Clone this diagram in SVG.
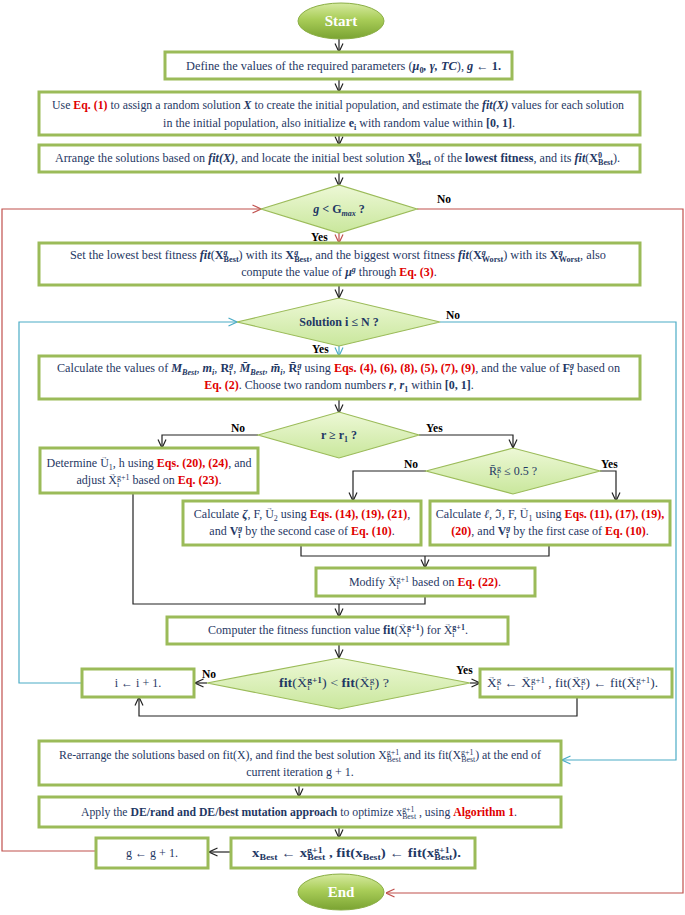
<svg xmlns="http://www.w3.org/2000/svg" width="685" height="915" viewBox="0 0 685 915">
<defs>
<style>
.t{font-family:"Liberation Serif",serif;font-size:12px;fill:#1F3864}
.r{fill:#E00000;font-weight:bold}
.b{font-weight:bold}
.bi{font-weight:bold;font-style:italic}
.it{font-style:italic}
.s{font-size:8px}
.va{font-size:6.5px;font-weight:normal;font-style:normal}
.lbl{font-family:"Liberation Serif",serif;font-size:11.5px;font-weight:bold;fill:#000}
.box{fill:#fff;stroke:#9BBB59;stroke-width:3}
.dia{fill:url(#gDia);stroke:#9BBB59;stroke-width:1.2}
.ell{fill:url(#gEl);stroke:#8AAE45;stroke-width:1}
.et{font-family:"Liberation Serif",serif;font-size:15px;font-weight:bold;fill:#fff}
.c{fill:none;stroke:#222;stroke-width:1.2}
.cr{fill:none;stroke:#C0504D;stroke-width:1.2}
.cb{fill:none;stroke:#4BACC6;stroke-width:1.2}
</style>
<linearGradient id="gEl" x1="0" y1="0" x2="0" y2="1"><stop offset="0" stop-color="#D6EAA0"/><stop offset="0.45" stop-color="#A9CD58"/><stop offset="1" stop-color="#7AA332"/></linearGradient>
<linearGradient id="gDia" x1="0" y1="0" x2="0" y2="1"><stop offset="0" stop-color="#EDF8D6"/><stop offset="1" stop-color="#C9E79C"/></linearGradient>
<marker id="ak" markerUnits="userSpaceOnUse" markerWidth="10" markerHeight="10" viewBox="0 0 10 10" refX="9.5" refY="5" orient="auto"><path d="M1,1 L9.5,5 L1,9" fill="none" stroke="#222" stroke-width="1.2"/></marker>
<marker id="ar" markerUnits="userSpaceOnUse" markerWidth="10" markerHeight="10" viewBox="0 0 10 10" refX="9.5" refY="5" orient="auto"><path d="M1,1 L9.5,5 L1,9" fill="none" stroke="#C0504D" stroke-width="1.2"/></marker>
<marker id="ab" markerUnits="userSpaceOnUse" markerWidth="10" markerHeight="10" viewBox="0 0 10 10" refX="9.5" refY="5" orient="auto"><path d="M1,1 L9.5,5 L1,9" fill="none" stroke="#4BACC6" stroke-width="1.2"/></marker>
</defs>
<rect width="685" height="915" fill="#fff"/>

<g id="connectors">
<path class="c" d="M339,39 V52" marker-end="url(#ak)"/>
<path class="c" d="M339,79 V92" marker-end="url(#ak)"/>
<path class="c" d="M339,135 V145" marker-end="url(#ak)"/>
<path class="c" d="M339,172 V186" marker-end="url(#ak)"/>
<path class="cr" d="M417,209 H683 V893 H386" marker-end="url(#ar)"/>
<path class="cr" d="M96,851 H2 V209 H261" marker-end="url(#ar)"/>
<path class="cr" d="M339,233 V243" marker-end="url(#ar)"/>
<path class="c" d="M339,285 V298" marker-end="url(#ak)"/>
<path class="cb" d="M440,322 H676 V760 H562" marker-end="url(#ab)"/>
<path class="cb" d="M82,683 H19 V322 H237" marker-end="url(#ab)"/>
<path class="cb" d="M339,346 V356" marker-end="url(#ab)"/>
<path class="c" d="M339,399 V413" marker-end="url(#ak)"/>
<path class="c" d="M258,435 H162 V448" marker-end="url(#ak)"/>
<path class="c" d="M419,435 H513 V448" marker-end="url(#ak)"/>
<path class="c" d="M426,471 H353 V501" marker-end="url(#ak)"/>
<path class="c" d="M600,471 H616 V501" marker-end="url(#ak)"/>
<path class="c" d="M301,545 V556 H549 V545"/>
<path class="c" d="M425,556 V568" marker-end="url(#ak)"/>
<path class="c" d="M133,493 V604 H425 V596"/>
<path class="c" d="M339,604 V617" marker-end="url(#ak)"/>
<path class="c" d="M339,644 V658" marker-end="url(#ak)"/>
<path class="c" d="M207,683 H195" marker-end="url(#ak)"/>
<path class="c" d="M470,683 H480" marker-end="url(#ak)"/>
<path class="c" d="M577,697 V716 H139 V697" marker-end="url(#ak)"/>
<path class="c" d="M299,785 V797" marker-end="url(#ak)"/>
<path class="c" d="M339,827 V838" marker-end="url(#ak)"/>
<path class="c" d="M231,852 H209" marker-end="url(#ak)"/>
<text class="lbl" x="437" y="203">No</text>
<text class="lbl" x="311" y="241">Yes</text>
<text class="lbl" x="446" y="319">No</text>
<text class="lbl" x="312" y="353">Yes</text>
<text class="lbl" x="231" y="432">No</text>
<text class="lbl" x="426" y="432">Yes</text>
<text class="lbl" x="404" y="468">No</text>
<text class="lbl" x="601" y="468">Yes</text>
<text class="lbl" x="202" y="678">No</text>
<text class="lbl" x="456" y="674">Yes</text>
</g>

<g id="start">
<ellipse class="ell" cx="341" cy="21" rx="43" ry="18"/>
<text class="et" x="341" y="26" text-anchor="middle">Start</text>
</g>

<g id="box1">
<rect class="box" x="165" y="52" width="347" height="27"/>
<text class="t" x="186" y="70" textLength="315" lengthAdjust="spacingAndGlyphs">Define the values of the required parameters (<tspan class="bi">μ</tspan><tspan class="s b" dy="2.5">0</tspan><tspan class="bi" dy="-2.5">, γ, TC</tspan>), <tspan class="bi">g</tspan>  ← <tspan class="b">1.</tspan></text>
</g>

<g id="box2">
<rect class="box" x="39" y="92" width="601" height="43"/>
<text class="t" x="52" y="109" textLength="572" lengthAdjust="spacingAndGlyphs">Use <tspan class="r">Eq. (1)</tspan> to assign a random solution <tspan class="bi">X</tspan> to create the initial population, and estimate the <tspan class="bi">fit(X)</tspan> values for each solution</text>
<text class="t" x="339" y="127" text-anchor="middle">in the initial population, also initialize <tspan class="b">e</tspan><tspan class="s b" dy="2.5">i</tspan><tspan dy="-2.5"> with random value within </tspan><tspan class="b">[0, 1]</tspan>.</text>
</g>

<g id="box3">
<rect class="box" x="39" y="145" width="601" height="27"/>
<text class="t" x="55" y="162" textLength="565" lengthAdjust="spacingAndGlyphs">Arrange the solutions based on <tspan class="bi">fit(X)</tspan>, and locate the initial best solution <tspan class="b">X</tspan><tspan class="s b" dy="-4">0</tspan><tspan class="s b" dx="-4" dy="6.5">Best</tspan><tspan dy="-2.5"> of the </tspan><tspan class="b">lowest fitness</tspan>, and its  <tspan class="bi">fit</tspan>(<tspan class="b">X</tspan><tspan class="s b" dy="-4">0</tspan><tspan class="s b" dx="-4" dy="6.5">Best</tspan><tspan dy="-2.5">).</tspan></text>
</g>

<g id="dec1">
<polygon class="dia" points="261,209 339,185 417,209 339,233"/>
<text class="t b" x="339" y="213" text-anchor="middle"><tspan class="bi">g</tspan> &lt; G<tspan class="s bi" dy="2.5">max</tspan><tspan dy="-2.5"> ?</tspan></text>
</g>

<g id="box4">
<rect class="box" x="39" y="243" width="601" height="42"/>
<text class="t" x="70" y="259" textLength="536" lengthAdjust="spacingAndGlyphs">Set the lowest best fitness <tspan class="bi">fit</tspan>(<tspan class="b">X</tspan><tspan class="s bi" dy="-4">g</tspan><tspan class="s b" dx="-4" dy="6.5">Best</tspan><tspan dy="-2.5">) with its  </tspan><tspan class="b">X</tspan><tspan class="s bi" dy="-4">g</tspan><tspan class="s b" dx="-4" dy="6.5">Best</tspan><tspan dy="-2.5">, and the biggest worst fitness </tspan><tspan class="bi">fit</tspan>(<tspan class="b">X</tspan><tspan class="s bi" dy="-4">g</tspan><tspan class="s b" dx="-4" dy="6.5">Worst</tspan><tspan dy="-2.5">) with its </tspan><tspan class="b">X</tspan><tspan class="s bi" dy="-4">g</tspan><tspan class="s b" dx="-4" dy="6.5">Worst</tspan><tspan dy="-2.5">, also</tspan></text>
<text class="t" x="339" y="276" text-anchor="middle">compute the value of <tspan class="bi">μ</tspan><tspan class="s bi" dy="-4">g</tspan><tspan dy="4"> through </tspan><tspan class="r">Eq. (3)</tspan>.</text>
</g>

<g id="dec2">
<polygon class="dia" points="237,322 339,298 440,322 339,346"/>
<text class="t b" x="339" y="326" text-anchor="middle">Solution  i ≤ N ?</text>
</g>

<g id="box5">
<rect class="box" x="39" y="356" width="601" height="43"/>
<text class="t" x="57" y="372" textLength="563" lengthAdjust="spacingAndGlyphs">Calculate the values of <tspan class="bi">M</tspan><tspan class="s bi" dy="2.5">Best</tspan><tspan dy="-2.5">, </tspan><tspan class="bi">m</tspan><tspan class="s bi" dy="2.5">i</tspan><tspan dy="-2.5">, </tspan><tspan class="b">R</tspan><tspan class="s b" dy="2.5">i</tspan><tspan class="s bi" dx="-2.2" dy="-6.5">g</tspan><tspan dy="4">, </tspan><tspan class="bi">M̄</tspan><tspan class="s bi" dy="2.5">Best</tspan><tspan dy="-2.5">, </tspan><tspan class="bi">m̄</tspan><tspan class="s bi" dy="2.5">i</tspan><tspan dy="-2.5">, </tspan><tspan class="b">R̄</tspan><tspan class="s b" dy="2.5">i</tspan><tspan class="s bi" dx="-2.2" dy="-6.5">g</tspan><tspan dy="4"> using </tspan><tspan class="r">Eqs. (4), (6), (8), (5), (7), (9)</tspan>, and the value of  <tspan class="b">F</tspan><tspan class="s b" dy="2.5">i</tspan><tspan class="s bi" dx="-2.2" dy="-6.5">g</tspan><tspan dy="4"> based on</tspan></text>
<text class="t" x="339" y="389" text-anchor="middle"><tspan class="r">Eq. (2)</tspan>. Choose two random numbers  <tspan class="bi">r</tspan>, <tspan class="bi">r</tspan><tspan class="s b" dy="2.5">1</tspan><tspan dy="-2.5"> within </tspan><tspan class="b">[0, 1]</tspan>.</text>
</g>

<g id="dec3">
<polygon class="dia" points="258,435 339,412 419,435 339,458"/>
<text class="t b" x="339" y="439" text-anchor="middle">r ≥ r<tspan class="s" dy="2.5">1</tspan><tspan dy="-2.5"> ?</tspan></text>
</g>

<g id="box-determine">
<rect class="box" x="40" y="448" width="218" height="45"/>
<text class="t" x="149" y="467" text-anchor="middle">Determine U<tspan class="va" dx="-7.7" dy="-8">→</tspan><tspan class="s" dx="1.2" dy="10.5">1</tspan><tspan dy="-2.5">, h using </tspan><tspan class="r">Eqs. (20), (24)</tspan>, and</text>
<text class="t" x="149" y="484" text-anchor="middle">adjust X<tspan class="va" dx="-7.7" dy="-8">→</tspan><tspan class="s" dx="1.2" dy="10.5">i</tspan><tspan class="s" dx="-2.2" dy="-6.5">g+1</tspan><tspan dy="4"> based on </tspan><tspan class="r">Eq. (23)</tspan>.</text>
</g>

<g id="dec4">
<polygon class="dia" points="426,471 513,448 600,471 513,494"/>
<text class="t" x="513" y="475" text-anchor="middle">R̄<tspan class="s" dy="2.5">i</tspan><tspan class="s" dx="-2.2" dy="-6.5">g</tspan><tspan dy="4"> ≤ 0.5 ?</tspan></text>
</g>

<g id="box-zeta">
<rect class="box" x="183" y="501" width="238" height="44"/>
<text class="t" x="302" y="518" text-anchor="middle">Calculate <tspan class="bi">ζ</tspan>, F, U<tspan class="va" dx="-7.7" dy="-8">→</tspan><tspan class="s" dx="1.2" dy="10.5">2</tspan><tspan dy="-2.5"> using </tspan><tspan class="r">Eqs. (14), (19), (21)</tspan>,</text>
<text class="t" x="302" y="535" text-anchor="middle">and <tspan class="b">V</tspan><tspan class="s b" dy="2.5">i</tspan><tspan class="s bi" dx="-2.2" dy="-6.5">g</tspan><tspan dy="4"> by the second case of </tspan><tspan class="r">Eq. (10)</tspan>.</text>
</g>

<g id="box-ell">
<rect class="box" x="430" y="501" width="240" height="44"/>
<text class="t" x="550" y="518" text-anchor="middle">Calculate <tspan class="it">ℓ</tspan>, ℑ, F, U<tspan class="va" dx="-7.7" dy="-8">→</tspan><tspan class="s" dx="1.2" dy="10.5">1</tspan><tspan dy="-2.5"> using </tspan><tspan class="r">Eqs. (11), (17), (19),</tspan></text>
<text class="t" x="550" y="535" text-anchor="middle"><tspan class="r">(20)</tspan>, and <tspan class="b">V</tspan><tspan class="s b" dy="2.5">i</tspan><tspan class="s bi" dx="-2.2" dy="-6.5">g</tspan><tspan dy="4"> by the first case of </tspan><tspan class="r">Eq. (10)</tspan>.</text>
</g>

<g id="box-modify">
<rect class="box" x="316" y="568" width="219" height="28"/>
<text class="t" x="425" y="586" text-anchor="middle">Modify X<tspan class="va" dx="-7.7" dy="-8">→</tspan><tspan class="s" dx="1.2" dy="10.5">i</tspan><tspan class="s" dx="-2.2" dy="-6.5">g+1</tspan><tspan dy="4"> based on </tspan><tspan class="r">Eq. (22)</tspan>.</text>
</g>

<g id="box-compute">
<rect class="box" x="167" y="617" width="341" height="27"/>
<text class="t" x="338" y="634" text-anchor="middle">Computer the fitness function value <tspan class="b">fit</tspan>(X<tspan class="va" dx="-7.7" dy="-8">→</tspan><tspan class="s" dx="1.2" dy="10.5">i</tspan><tspan class="s b" dx="-2.2" dy="-6.5">g+1</tspan><tspan dy="4">)  for  X</tspan><tspan class="va" dx="-7.7" dy="-8">→</tspan><tspan class="s" dx="1.2" dy="10.5">i</tspan><tspan class="s b" dx="-2.2" dy="-6.5">g+1</tspan><tspan dy="4">.</tspan></text>
</g>

<g id="dec5">
<polygon class="dia" points="207,683 339,658 470,683 339,709"/>
<text class="t" x="279" y="687" textLength="110" lengthAdjust="spacingAndGlyphs"><tspan class="b">fit</tspan>(X<tspan class="va" dx="-7.7" dy="-8">→</tspan><tspan class="s" dx="1.2" dy="10.5">i</tspan><tspan class="s b" dx="-2.2" dy="-6.5">g+1</tspan><tspan dy="4">) &lt; </tspan><tspan class="b">fit</tspan>(X<tspan class="va" dx="-7.7" dy="-8">→</tspan><tspan class="s" dx="1.2" dy="10.5">i</tspan><tspan class="s" dx="-2.2" dy="-6.5">g</tspan><tspan dy="4">) ?</tspan></text>
</g>

<g id="box-inc-i">
<rect class="box" x="82" y="669" width="112" height="28"/>
<text class="t" x="138" y="687" text-anchor="middle">i  ← i + 1.</text>
</g>

<g id="box-update">
<rect class="box" x="480" y="669" width="192" height="28"/>
<text class="t" x="487" y="687" textLength="171" lengthAdjust="spacingAndGlyphs">X<tspan class="va" dx="-7.7" dy="-8">→</tspan><tspan class="s" dx="1.2" dy="10.5">i</tspan><tspan class="s" dx="-2.2" dy="-6.5">g</tspan><tspan dy="4"> ← X</tspan><tspan class="va" dx="-7.7" dy="-8">→</tspan><tspan class="s" dx="1.2" dy="10.5">i</tspan><tspan class="s" dx="-2.2" dy="-6.5">g+1</tspan><tspan dy="4">   ,  fit(X</tspan><tspan class="va" dx="-7.7" dy="-8">→</tspan><tspan class="s" dx="1.2" dy="10.5">i</tspan><tspan class="s" dx="-2.2" dy="-6.5">g</tspan><tspan dy="4">) ← fit(X</tspan><tspan class="va" dx="-7.7" dy="-8">→</tspan><tspan class="s" dx="1.2" dy="10.5">i</tspan><tspan class="s" dx="-2.2" dy="-6.5">g+1</tspan><tspan dy="4">).</tspan></text>
</g>

<g id="box-rearrange">
<rect class="box" x="39" y="741" width="522" height="44"/>
<text class="t" x="59" y="759" textLength="482" lengthAdjust="spacingAndGlyphs">Re-arrange the solutions based on fit(X), and find the best solution X<tspan class="s" dy="-4">g+1</tspan><tspan class="s" dx="-12.5" dy="6.5">Best</tspan><tspan dy="-2.5"> and its fit(X</tspan><tspan class="s" dy="-4">g+1</tspan><tspan class="s" dx="-12.5" dy="6.5">Best</tspan><tspan dy="-2.5">) at the end of</tspan></text>
<text class="t" x="300" y="776" text-anchor="middle">current iteration g + 1.</text>
</g>

<g id="box-apply">
<rect class="box" x="39" y="797" width="522" height="30"/>
<text class="t" x="81" y="816" textLength="436" lengthAdjust="spacingAndGlyphs">Apply the <tspan class="b">DE/rand and DE/best mutation approach</tspan> to optimize x<tspan class="s" dy="-4">g+1</tspan><tspan class="s" dx="-12.5" dy="6.5">Best</tspan><tspan dy="-2.5"> , using </tspan><tspan class="r">Algorithm 1</tspan>.</text>
</g>

<g id="box-xbest">
<rect class="box" x="231" y="838" width="244" height="30"/>
<text class="t b" x="252" y="857" textLength="209" lengthAdjust="spacingAndGlyphs">x<tspan class="s" dy="2.5">Best</tspan><tspan dy="-2.5"> ← x</tspan><tspan class="s" dy="-4">g+1</tspan><tspan class="s" dx="-12.5" dy="6.5">Best</tspan><tspan dy="-2.5">   ,   fit(x</tspan><tspan class="s" dy="2.5">Best</tspan><tspan dy="-2.5">) ← fit(x</tspan><tspan class="s" dy="-4">g+1</tspan><tspan class="s" dx="-12.5" dy="6.5">Best</tspan><tspan dy="-2.5">).</tspan></text>
</g>

<g id="box-inc-g">
<rect class="box" x="96" y="838" width="112" height="30"/>
<text class="t" x="152" y="857" text-anchor="middle">g  ← g + 1.</text>
</g>

<g id="end">
<ellipse class="ell" cx="341" cy="892" rx="43" ry="18"/>
<text class="et" x="341" y="897" text-anchor="middle">End</text>
</g>
</svg>
